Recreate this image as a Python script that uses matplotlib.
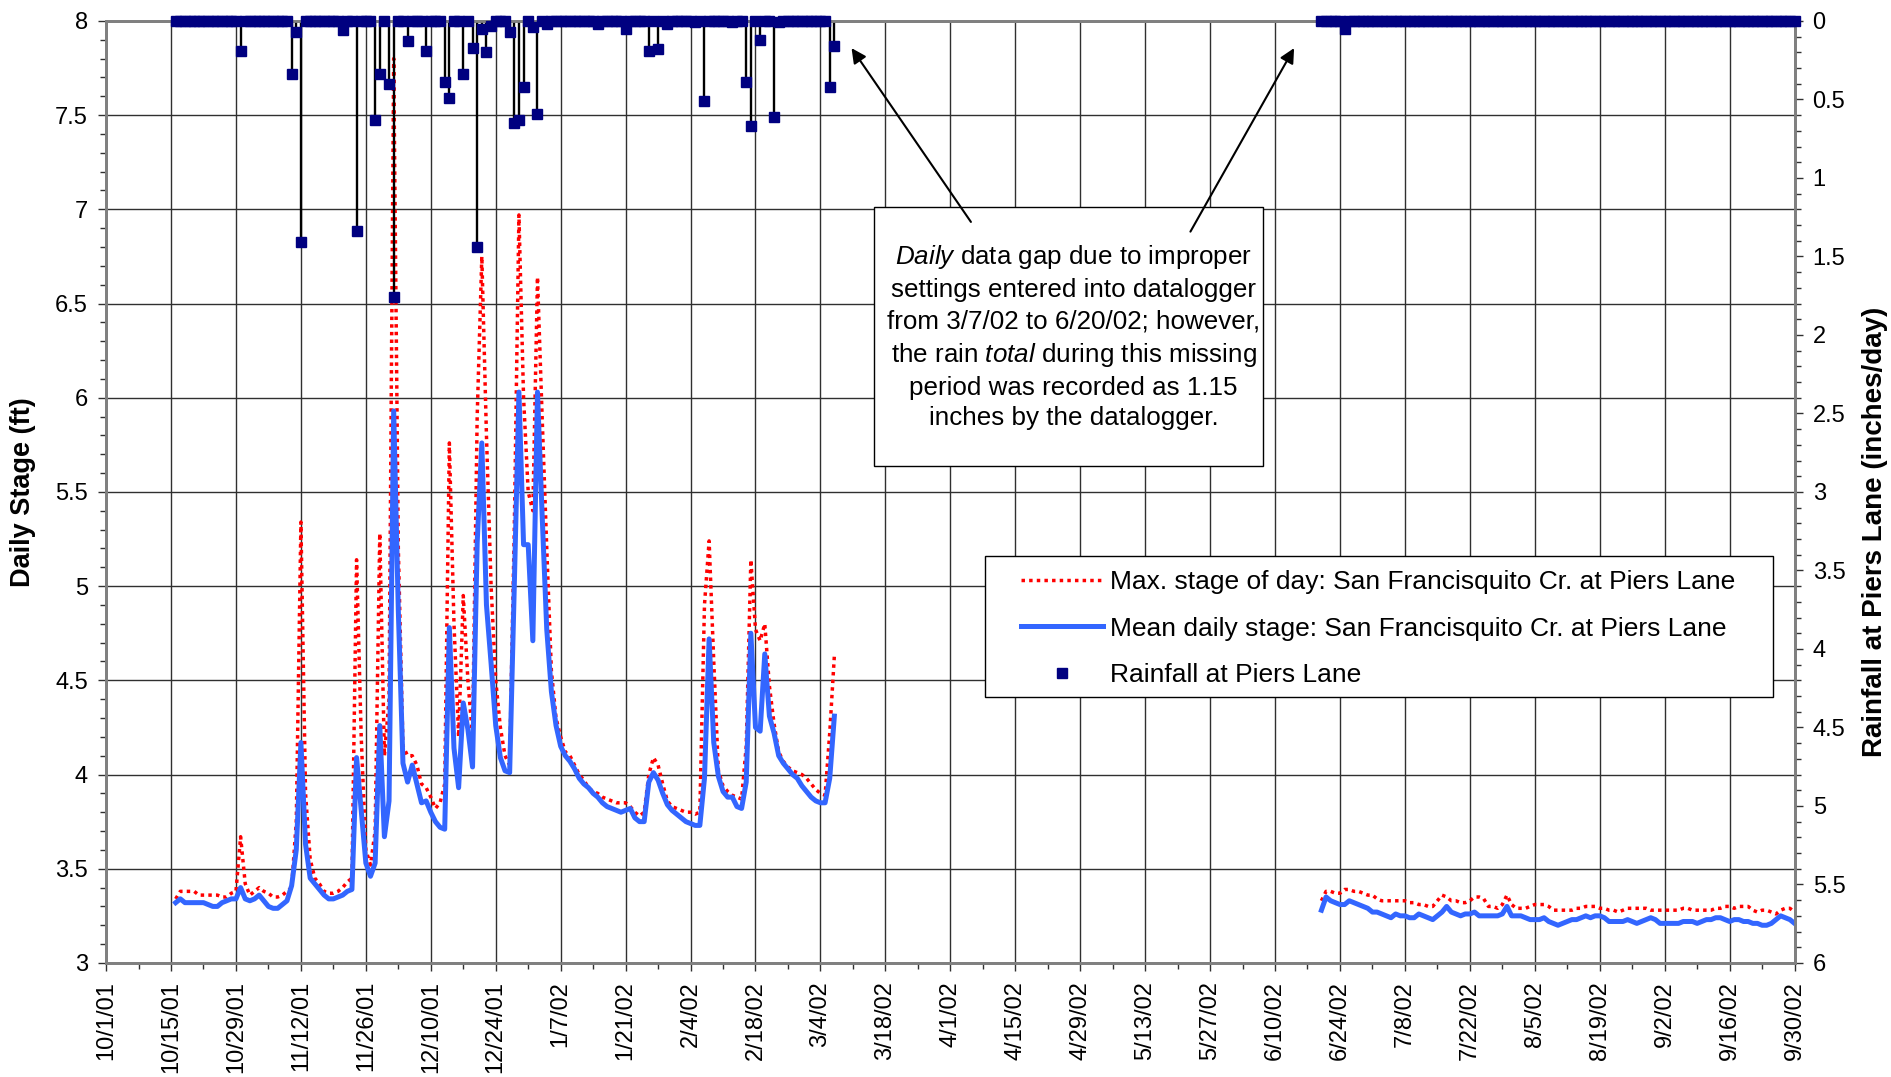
import numpy as np
import pandas as pd
import matplotlib
matplotlib.use('Agg')
import matplotlib.pyplot as plt
import matplotlib.dates as mdates
from matplotlib.lines import Line2D
from matplotlib.patches import Rectangle

plt.rcParams['font.family'] = ['Liberation Sans', 'DejaVu Sans']
plt.rcParams['mathtext.fontset'] = 'custom'
plt.rcParams['mathtext.rm'] = 'Liberation Sans'
plt.rcParams['mathtext.it'] = 'Liberation Sans:italic'

# daily stage (ft), first record 10/16/01 - 3/7/02
start1 = '2001-10-16'
mean_stage1 = [3.32, 3.34, 3.32, 3.32, 3.32, 3.32, 3.32, 3.31, 3.30, 3.30,
               3.32, 3.33, 3.34, 3.34, 3.40, 3.34, 3.33, 3.34, 3.36, 3.33,
               3.30, 3.29, 3.29, 3.31, 3.33, 3.41, 3.60, 4.17, 3.63, 3.45,
               3.42, 3.39, 3.36, 3.34, 3.34, 3.35, 3.36, 3.38, 3.39, 4.09,
               3.81, 3.53, 3.46, 3.53, 4.26, 3.67, 3.86, 5.93, 4.87, 4.06,
               3.96, 4.05, 3.95, 3.85, 3.86, 3.80, 3.75, 3.72, 3.71, 4.78,
               4.14, 3.93, 4.38, 4.24, 4.04, 5.23, 5.76, 4.90, 4.59, 4.26,
               4.09, 4.02, 4.01, 5.00, 6.03, 5.22, 5.22, 4.71, 6.03, 5.38,
               4.77, 4.44, 4.26, 4.15, 4.10, 4.07, 4.03, 3.98, 3.95, 3.93,
               3.90, 3.88, 3.85, 3.83, 3.82, 3.81, 3.80, 3.81, 3.82, 3.77,
               3.75, 3.75, 3.96, 4.01, 3.97, 3.90, 3.84, 3.81, 3.79, 3.77,
               3.75, 3.74, 3.73, 3.73, 3.98, 4.72, 4.17, 3.99, 3.91, 3.88,
               3.88, 3.83, 3.82, 3.96, 4.75, 4.25, 4.23, 4.64, 4.31, 4.22,
               4.10, 4.06, 4.03, 4.00, 3.98, 3.94, 3.91, 3.88, 3.86, 3.85,
               3.85, 3.98, 4.31]
max_stage1 = [3.34, 3.38, 3.38, 3.38, 3.38, 3.36, 3.36, 3.36, 3.36, 3.36,
              3.35, 3.35, 3.37, 3.38, 3.67, 3.42, 3.36, 3.38, 3.40, 3.38,
              3.37, 3.35, 3.35, 3.36, 3.38, 3.40, 3.75, 5.34, 3.90, 3.55,
              3.45, 3.42, 3.38, 3.37, 3.37, 3.38, 3.40, 3.43, 3.45, 5.14,
              4.20, 3.60, 3.52, 3.70, 5.28, 4.10, 4.40, 7.80, 5.20, 4.15,
              4.10, 4.10, 4.05, 3.95, 3.93, 3.88, 3.82, 3.85, 3.95, 5.76,
              4.80, 4.20, 4.95, 4.50, 4.20, 5.90, 6.75, 5.80, 5.00, 4.50,
              4.25, 4.10, 4.05, 5.30, 6.97, 6.00, 5.50, 5.40, 6.64, 5.90,
              5.20, 4.55, 4.30, 4.20, 4.12, 4.10, 4.05, 4.00, 3.97, 3.93,
              3.91, 3.90, 3.88, 3.87, 3.86, 3.85, 3.85, 3.85, 3.83, 3.80,
              3.78, 3.80, 4.00, 4.09, 4.05, 3.95, 3.86, 3.83, 3.82, 3.81,
              3.80, 3.80, 3.79, 3.80, 4.90, 5.24, 4.60, 4.02, 3.94, 3.91,
              3.89, 3.88, 3.87, 4.15, 5.14, 4.77, 4.71, 4.80, 4.47, 4.27,
              4.12, 4.07, 4.04, 4.02, 4.01, 4.00, 3.98, 3.95, 3.92, 3.90,
              3.89, 4.22, 4.63]

# second record 6/20/02 - 9/30/02
start2 = '2002-06-20'
mean_stage2 = [3.28, 3.35, 3.33, 3.32, 3.31, 3.31, 3.33, 3.32, 3.31, 3.30,
               3.29, 3.27, 3.27, 3.26, 3.25, 3.24, 3.26, 3.25, 3.25, 3.24,
               3.24, 3.26, 3.25, 3.24, 3.23, 3.25, 3.27, 3.30, 3.27, 3.26,
               3.25, 3.26, 3.26, 3.27, 3.25, 3.25, 3.25, 3.25, 3.25, 3.26,
               3.30, 3.25, 3.25, 3.25, 3.24, 3.23, 3.23, 3.23, 3.24, 3.22,
               3.21, 3.20, 3.21, 3.22, 3.23, 3.23, 3.24, 3.25, 3.24, 3.25,
               3.25, 3.24, 3.22, 3.22, 3.22, 3.22, 3.23, 3.22, 3.21, 3.22,
               3.23, 3.24, 3.23, 3.21, 3.21, 3.21, 3.21, 3.21, 3.22, 3.22,
               3.22, 3.21, 3.22, 3.23, 3.23, 3.24, 3.24, 3.23, 3.22, 3.23,
               3.23, 3.22, 3.22, 3.21, 3.21, 3.20, 3.20, 3.21, 3.23, 3.25,
               3.24, 3.23, 3.21]
max_stage2 = [3.33, 3.38, 3.38, 3.37, 3.37, 3.39, 3.39, 3.38, 3.38, 3.37,
              3.36, 3.36, 3.34, 3.33, 3.33, 3.33, 3.33, 3.33, 3.33, 3.32,
              3.32, 3.31, 3.31, 3.30, 3.30, 3.33, 3.36, 3.35, 3.33, 3.33,
              3.32, 3.32, 3.33, 3.35, 3.35, 3.34, 3.30, 3.30, 3.29, 3.31,
              3.36, 3.31, 3.29, 3.29, 3.29, 3.30, 3.31, 3.31, 3.31, 3.30,
              3.28, 3.28, 3.28, 3.28, 3.28, 3.29, 3.29, 3.30, 3.30, 3.30,
              3.29, 3.29, 3.28, 3.28, 3.27, 3.28, 3.29, 3.29, 3.29, 3.29,
              3.29, 3.28, 3.28, 3.28, 3.28, 3.28, 3.28, 3.28, 3.29, 3.29,
              3.28, 3.28, 3.28, 3.28, 3.28, 3.29, 3.29, 3.30, 3.30, 3.29,
              3.30, 3.30, 3.30, 3.28, 3.27, 3.28, 3.28, 3.27, 3.26, 3.28,
              3.29, 3.29, 3.27]

# rainfall (inches/day); logged days not listed here had 0
rain_periods = [('2001-10-16', '2002-03-07'), ('2002-06-20', '2002-09-30')]
rain_dates = ['2001-10-30', '2001-11-10', '2001-11-11', '2001-11-12', '2001-11-21',
              '2001-11-24', '2001-11-28', '2001-11-29', '2001-12-01', '2001-12-02',
              '2001-12-05', '2001-12-09', '2001-12-13', '2001-12-14', '2001-12-17',
              '2001-12-19', '2001-12-20', '2001-12-21', '2001-12-22', '2001-12-23',
              '2001-12-27', '2001-12-28', '2001-12-29', '2001-12-30', '2002-01-01',
              '2002-01-02', '2002-01-04', '2002-01-15', '2002-01-21', '2002-01-26',
              '2002-01-28', '2002-01-30', '2002-02-05', '2002-02-07', '2002-02-13',
              '2002-02-16', '2002-02-17', '2002-02-19', '2002-02-22', '2002-02-23',
              '2002-03-06', '2002-03-07', '2002-06-25']
rain_vals = [0.19, 0.34, 0.07, 1.41, 0.06,
             1.34, 0.63, 0.34, 0.40, 1.76,
             0.13, 0.19, 0.39, 0.49, 0.34,
             0.17, 1.44, 0.05, 0.20, 0.03,
             0.07, 0.65, 0.63, 0.42, 0.04,
             0.59, 0.02, 0.02, 0.05, 0.19,
             0.18, 0.02, 0.01, 0.51, 0.01,
             0.39, 0.67, 0.12, 0.61, 0.01,
             0.42, 0.16, 0.05]

dates1 = pd.date_range(start1, periods=len(mean_stage1))
dates2 = pd.date_range(start2, periods=len(mean_stage2))

rain = pd.concat([pd.Series(0.0, index=pd.date_range(a, b)) for a, b in rain_periods])
rain.loc[pd.to_datetime(rain_dates)] = rain_vals

fig = plt.figure(figsize=(18.91, 10.77), dpi=100)
ax = fig.add_axes([0.0561, 0.1059, 0.8929, 0.8747])
ax2 = ax.twinx()

red_ls = (0, (1.0, 1.2))
blue = '#3366FF'
navy = '#000080'

for d, mx, mn in [(dates1, max_stage1, mean_stage1), (dates2, max_stage2, mean_stage2)]:
    ax.plot(d, mx, color='red', ls=red_ls, lw=2.5, zorder=3)
    ax.plot(d, mn, color=blue, lw=3.6, zorder=4)

wet = rain[rain > 0]
ax2.vlines(wet.index, 0, wet.values, color='black', lw=1.7, zorder=2)
ax2.plot(rain.index, rain.values, 's', color=navy, ms=7, clip_on=False, zorder=3)

# axes
x0 = mdates.date2num(pd.Timestamp('2001-10-01'))
x1 = mdates.date2num(pd.Timestamp('2002-09-30'))
ax.set_xlim(x0, x1)
major = pd.date_range('2001-10-01', '2002-09-30', freq='14D')
minor = pd.date_range('2001-10-01', '2002-09-30', freq='7D')
ax.set_xticks(mdates.date2num(major.to_pydatetime()))
ax.set_xticklabels([f'{d.month}/{d.day}/{d:%y}' for d in major], rotation=90)
ax.set_xticks(mdates.date2num(minor.to_pydatetime()), minor=True)

ax.set_ylim(3, 8)
ax.set_yticks(np.arange(3, 8.01, 0.5))
ax.set_yticklabels([f'{v:g}' for v in np.arange(3, 8.01, 0.5)])
ax.set_yticks(np.arange(3, 8.01, 0.1), minor=True)

ax2.set_ylim(6, 0)
ax2.set_yticks(np.arange(0, 6.01, 0.5))
ax2.set_yticklabels([f'{v:g}' for v in np.arange(0, 6.01, 0.5)])
ax2.set_yticks(np.arange(0, 6.01, 0.1), minor=True)

ax.grid(True, which='major', color='#303030', lw=1.0)
ax.set_axisbelow(True)

for a in (ax, ax2):
    a.tick_params(which='major', labelsize=17, length=6, width=1, color='#303030', pad=7)
    a.tick_params(which='minor', length=4, width=1, color='#303030')
    for s in a.spines.values():
        s.set_color('#808080')
        s.set_linewidth(2)

ax.set_ylabel('Daily Stage (ft)', fontsize=19.5, fontweight='bold')
ax.yaxis.set_label_coords(-0.0415, 0.5)
ax2.set_ylabel('Rainfall at Piers Lane (inches/day)', fontsize=20, fontweight='bold')
ax2.yaxis.set_label_coords(1.0400, 0.4575)

# legend with its own frame
ax2.add_patch(Rectangle((0.5206, 0.2823), 0.4664, 0.1497, transform=ax2.transAxes,
                        facecolor='white', edgecolor='black', lw=1, zorder=4.5))
handles = [Line2D([], [], color='red', ls=red_ls, lw=2.5),
           Line2D([], [], color=blue, lw=3.6),
           Line2D([], [], ls='none', marker='s', color=navy, ms=7)]
labels = ['Max. stage of day: San Francisquito Cr. at Piers Lane',
          'Mean daily stage: San Francisquito Cr. at Piers Lane',
          'Rainfall at Piers Lane']
leg = ax2.legend(handles, labels, loc='upper left', bbox_to_anchor=(0.5419, 0.4168),
                 frameon=False, fontsize=19, handlelength=3.1, handletextpad=0.27,
                 labelspacing=0.845, borderpad=0, borderaxespad=0)
leg.set_zorder(5)

# note about the data gap
ax2.add_patch(Rectangle((0.4548, 0.5275), 0.2304, 0.275, transform=ax2.transAxes,
                        facecolor='white', edgecolor='black', lw=1, zorder=4.5))
note = ('$\\it{Daily}$ data gap due to improper\n'
        'settings entered into datalogger\n'
        'from 3/7/02 to 6/20/02; however,\n'
        'the rain $\\it{total}$ during this missing\n'
        'period was recorded as 1.15\n'
        'inches by the datalogger.')
ax2.text(0.573, 0.6645, note, transform=ax2.transAxes, ha='center', va='center',
         fontsize=18.7, linespacing=1.36, zorder=5)
for head, tail in [((0.4415, 0.9711), (0.5122, 0.7866)),
                   ((0.7036, 0.9711), (0.6422, 0.7763))]:
    ann = ax2.annotate('', xy=head, xytext=tail, xycoords='axes fraction',
                       arrowprops=dict(arrowstyle='-|>', color='black', lw=1.5,
                                       mutation_scale=22, shrinkA=0, shrinkB=0))
    ann.set_zorder(6)

fig.savefig('out.png', dpi=100)
